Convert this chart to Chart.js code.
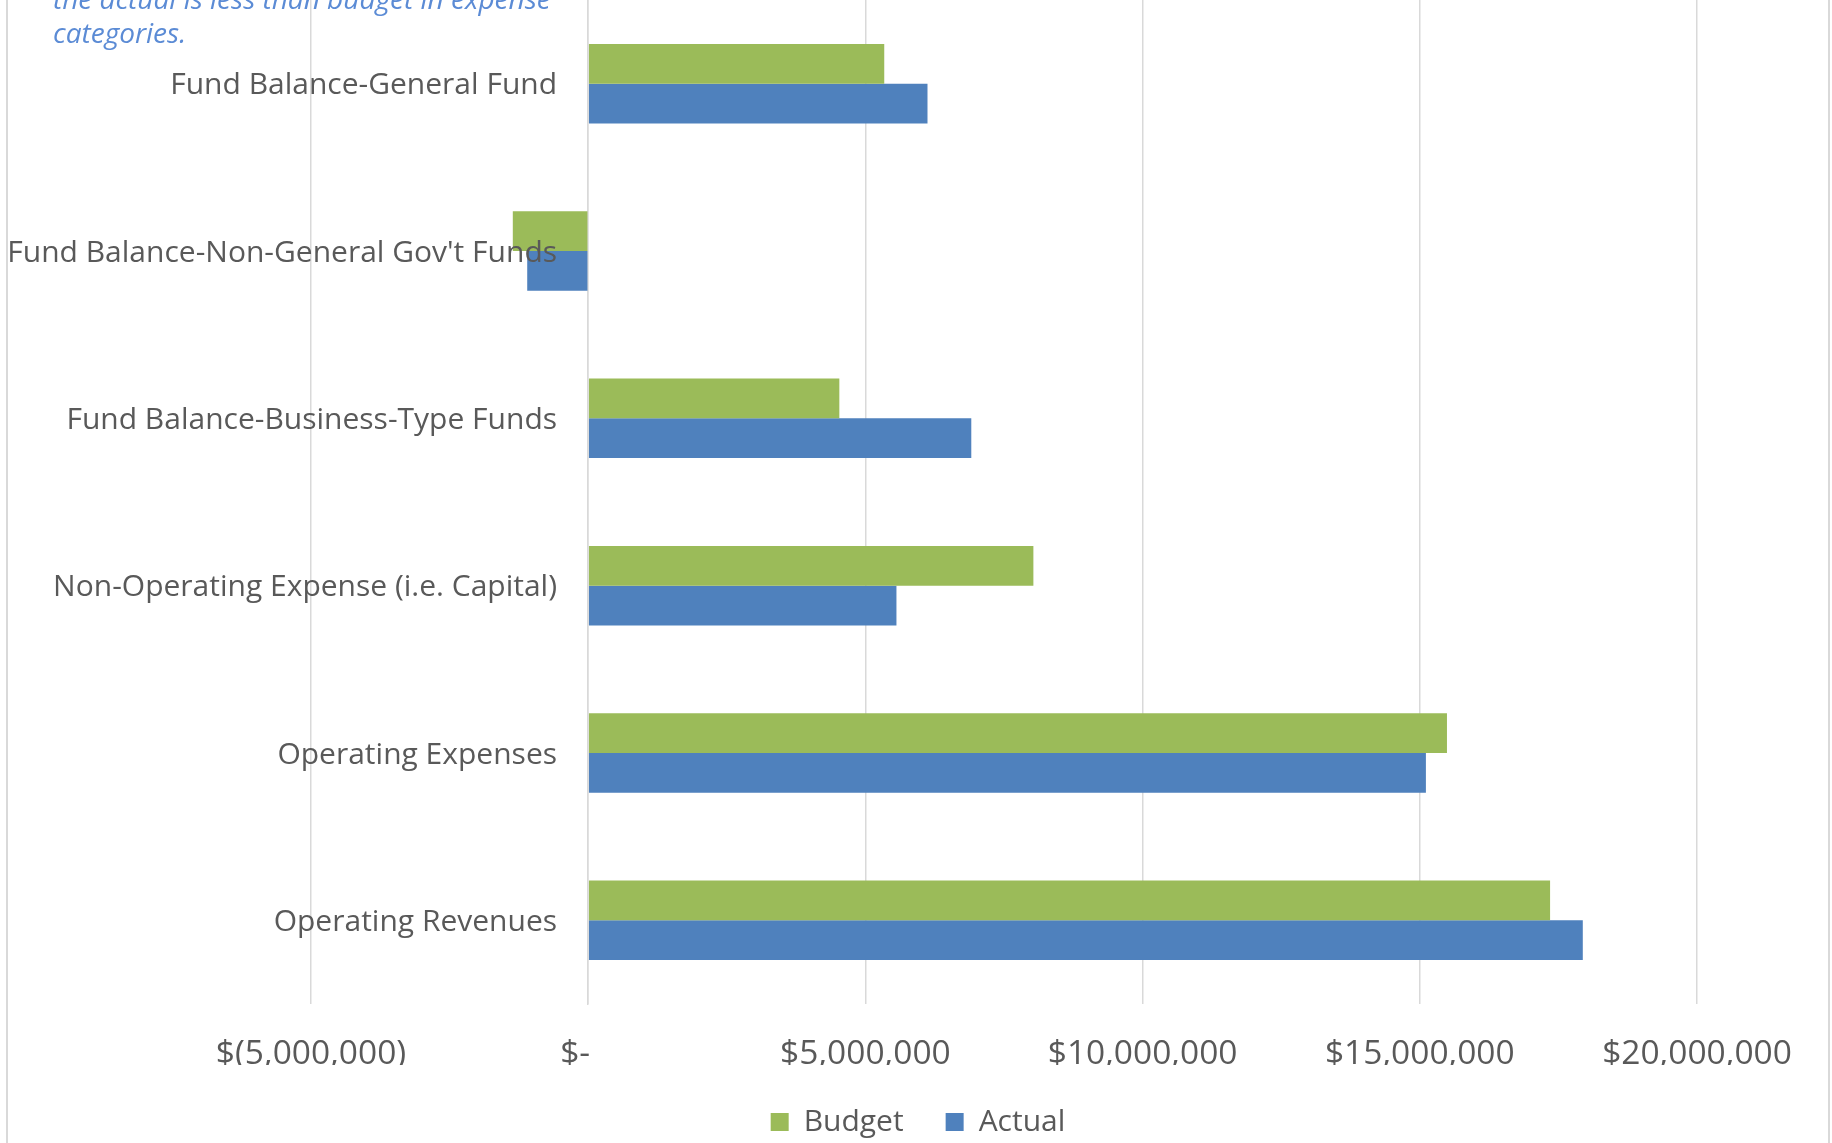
<!DOCTYPE html>
<html>
<head>
<meta charset="utf-8">
<script src="https://cdn.jsdelivr.net/npm/chart.js@4.4.1/dist/chart.umd.min.js"></script>
<style>
  html, body { margin: 0; padding: 0; background: #fff; overflow: hidden; height: 1143px; }
  #frame {
    position: absolute; left: 6px; top: 0;
    width: 1820px; height: 1143px; overflow: hidden;
    border-left: 2px solid #d9d9d9; border-right: 2px solid #d9d9d9;
  }
  /* a bit taller than the window so the legend sits lower */
  #chartBox { position: absolute; left: 0; top: 0; width: 1820px; height: 1147px; }
  #nota {
    position: absolute; left: 45px; top: -19px;
    font: italic 28px "Open Sans"; line-height: 34px;
    color: #5b8bd5; white-space: nowrap; pointer-events: none;
  }
</style>
</head>
<body>
<div id="frame">
  <div id="chartBox"><canvas id="budgetChart"></canvas></div>
  <div id="nota">the actual is less than budget in expense<br>categories.</div>
</div>
<script>
// ── Data ──────────────────────────────────────────────────────
const categories = [
  "Fund Balance-General Fund",
  "Fund Balance-Non-General Gov't Funds",
  "Fund Balance-Business-Type Funds",
  "Non-Operating Expense (i.e. Capital)",
  "Operating Expenses",
  "Operating Revenues",
];
const budgetValues = [5340000, -1360000, 4530000, 8030000, 15490000, 17350000];
const actualValues = [6120000, -1100000, 6910000, 5560000, 15110000, 17940000];
const tickLabels = [
  "$(5,000,000)",
  "$-   ",
  "$5,000,000",
  "$10,000,000",
  "$15,000,000",
  "$20,000,000",
];

// ── Style ─────────────────────────────────────────────────────
const GRID = "#d9d9d9";
const TEXT = "#595959";
const LABEL_GAP = "    "; // space between category label and the zero line
Chart.defaults.font.family = "Open Sans";

// ── Chart ─────────────────────────────────────────────────────
const ctx = document.getElementById("budgetChart").getContext("2d");

new Chart(ctx, {
  type: "bar",
  data: {
    labels: categories,
    datasets: [
      {
        label: "Budget",
        data: budgetValues,
        backgroundColor: "#9bbb59",
        barPercentage: 1,
        categoryPercentage: 0.475,
      },
      {
        label: "Actual",
        data: actualValues,
        backgroundColor: "#4f81bd",
        barPercentage: 1,
        categoryPercentage: 0.475,
      },
    ],
  },
  options: {
    indexAxis: "y",
    responsive: true,
    maintainAspectRatio: false,
    animation: false,
    layout: { padding: 0 },
    plugins: {
      legend: {
        position: "bottom",
        labels: {
          boxWidth: 18,
          boxHeight: 18,
          padding: 42,
          color: TEXT,
          font: { size: 30 },
        },
      },
      tooltip: { enabled: false },
    },
    scales: {
      x: {
        min: -5000000,
        max: 20000000,
        afterFit: (scale) => {
          // plot area: -5M at x=311, 20M at x=1697 (page coords)
          scale.height = 61;
          scale.paddingLeft = 303;
          scale.paddingRight = 131;
        },
        grid: { color: GRID, lineWidth: 1.5, drawTicks: false },
        border: { display: false },
        ticks: {
          stepSize: 5000000,
          autoSkip: false,
          maxRotation: 0,
          padding: 30,
          color: TEXT,
          font: { size: 33.5 },
          callback: (v, i) => tickLabels[i],
        },
      },
      y: {
        position: { x: 0 },
        afterFit: (scale) => {
          scale.paddingTop = 0;
          scale.paddingBottom = 0;
        },
        grid: { display: false },
        border: { color: GRID, width: 1.5 },
        ticks: {
          z: 1, // labels over the bars, like the original
          padding: 0,
          labelOffset: 2,
          color: TEXT,
          font: { size: 30 },
          callback: (v, i) => categories[i] + LABEL_GAP,
        },
      },
    },
  },
});
</script>
</body>
</html>
